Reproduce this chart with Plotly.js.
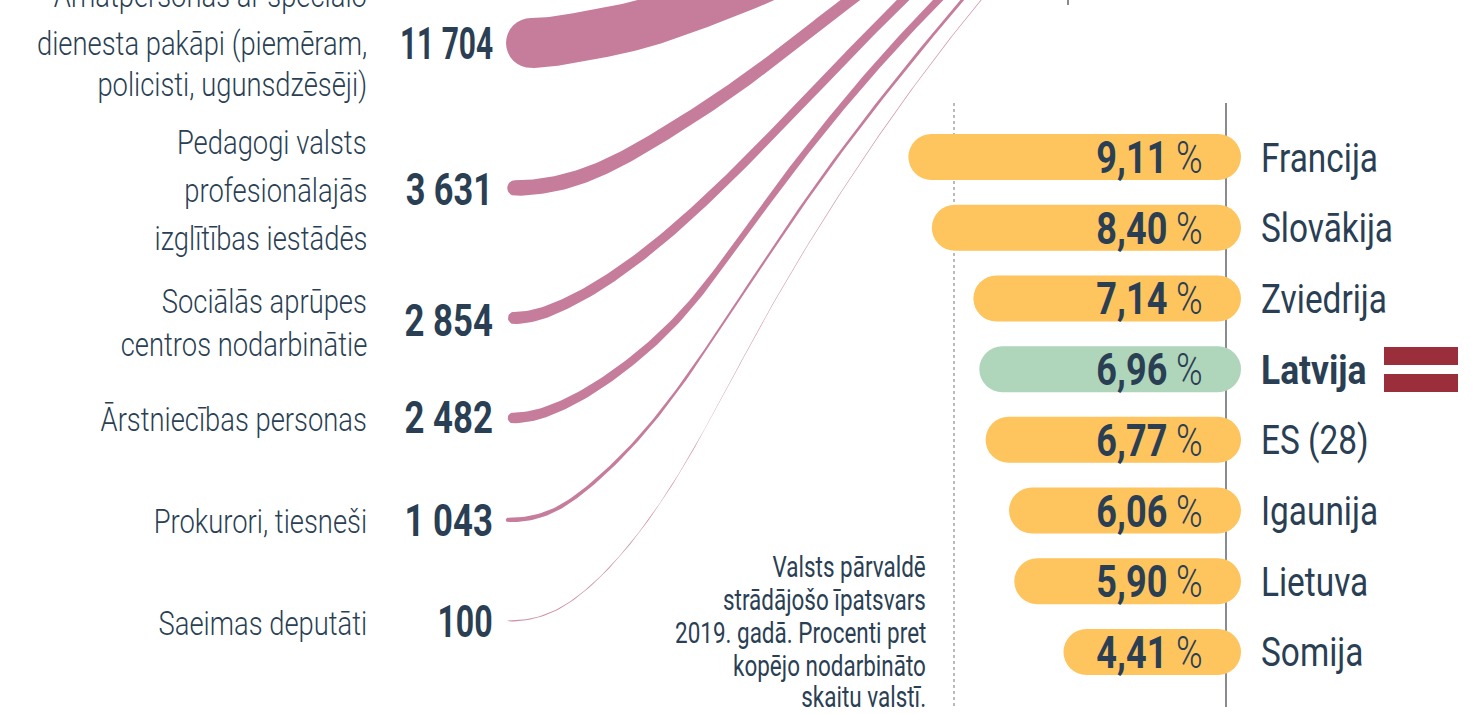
<!DOCTYPE html>
<html><head><meta charset="utf-8">
<script src="https://cdn.plot.ly/plotly-3.0.1.min.js"></script>
<style>
html,body{margin:0;padding:0;background:#fff;overflow:hidden}
#c{width:1477px;height:714px}
</style></head><body><div id="c"></div>
<script>
// --- data ---
const staffLabels = [
  ["Amatpersonas ar speciālo","dienesta pakāpi (piemēram,","policisti, ugunsdzēsēji)"],
  ["Pedagogi valsts","profesionālajās","izglītības iestādēs"],
  ["Sociālās aprūpes","centros nodarbinātie"],
  ["Ārstniecības personas"],
  ["Prokurori, tiesneši"],
  ["Saeimas deputāti"]
];
const staffCounts = [11704,3631,2854,2482,1043,100];
const countries = ["Francija","Slovākija","Zviedrija","Latvija","ES (28)","Igaunija","Lietuva","Somija"];
const shares = [9.11,8.40,7.14,6.96,6.77,6.06,5.90,4.41];
const footnote = ["Valsts pārvaldē","strādājošo īpatsvars","2019. gadā. Procenti pret","kopējo nodarbināto","skaitu valstī."];

// --- ribbon centre lines, as seen in the picture ---
const ribbonX = [
  [531,577,642,691,775,880],
  [515,592,666,750,850,950],
  [514,567,633,727,903,1000],
  [513,567,633,683,769,938,1020],
  [508,550,600,650,750,806,962,1030],
  [508,550,600,683,760,836,981,1050]
];
const ribbonY = [
  [43,37.5,24,8,-25,-75],
  [188,172.5,133,77,0,-75],
  [318,303,262,180,0,-90],
  [418,403,360,313,200,0,-80],
  [520,512,477,425,283,200,0,-80],
  [621,613,577,467,327,200,0,-80]
];

// --- layout constants ---
const W=1477,H=714, INK="#2a3f54", PINK="#c67c9b", FONT="Roboto,sans-serif";
const pxPerStaff=0.00427;
const labelLineY=[[-4,43,84],[142,190,238],[301,344],[419],[521],[623]];
const countY=[44,190,321,418,521,622];
const countSqueeze=[0.68,0.78,0.79,0.79,0.79,0.73];
const rowTop=121.65,rowBottom=687.35,rowCount=8;
const zeroPx=1209,pxPerPct=33,barEndPx=1241;
const noteY=[567,600,633,666,697];

// smooth curve through the read knots (y as a function of x, flat at the left end)
function smooth(xs,ys,step){
  const n=xs.length,h=[],a=[],b=[],c=[],d=[];
  for(let i=0;i<n-1;i++)h[i]=xs[i+1]-xs[i];
  a[0]=2*h[0];b[0]=h[0];d[0]=6*((ys[1]-ys[0])/h[0]);c[0]=0;
  for(let i=1;i<n-1;i++){c[i]=h[i-1];a[i]=2*(h[i-1]+h[i]);b[i]=h[i];
    d[i]=6*((ys[i+1]-ys[i])/h[i]-(ys[i]-ys[i-1])/h[i-1]);}
  a[n-1]=1;c[n-1]=0;b[n-1]=0;d[n-1]=0;
  for(let i=1;i<n;i++){const m=c[i]/a[i-1];a[i]-=m*b[i-1];d[i]-=m*d[i-1];}
  const M=[];M[n-1]=d[n-1]/a[n-1];
  for(let i=n-2;i>=0;i--)M[i]=(d[i]-b[i]*M[i+1])/a[i];
  const ox=[],oy=[];
  for(let i=0;i<n-1;i++)for(let x=xs[i];x<xs[i+1];x+=step){
    const A=(xs[i+1]-x)/h[i],B=(x-xs[i])/h[i];
    ox.push(x);oy.push(A*ys[i]+B*ys[i+1]+((A*A*A-A)*M[i]+(B*B*B-B)*M[i+1])*h[i]*h[i]/6);
  }
  ox.push(xs[n-1]);oy.push(ys[n-1]);
  return [ox,oy];
}

// ribbons: constant vertical thickness, rounded left end
const traces=staffCounts.map((n,i)=>{
  const w=Math.max(n*pxPerStaff,1.1), r=w/2;
  const [cx,cy]=smooth(ribbonX[i],ribbonY[i],3);
  const x=[...cx,...cx.slice().reverse()], y=[...cy.map(v=>v-r),...cy.slice().reverse().map(v=>v+r)];
  for(let k=1;k<16;k++){const a=Math.PI*k/16;x.push(cx[0]-r*Math.sin(a));y.push(cy[0]+r*Math.cos(a));}
  return {type:"scatter",mode:"lines",x,y,fill:"toself",fillcolor:PINK,
    line:{color:PINK,width:0},hoverinfo:"skip",xaxis:"x",yaxis:"y",showlegend:false,
    opacity:i===5?0.85:1};
});
const capBase=(zeroPx-barEndPx)/pxPerPct;
traces.push({type:"bar",orientation:"h",y:countries,x:shares.map(v=>v-capBase),base:capBase,
  marker:{color:countries.map(c=>c==="Latvija"?"#afd5bb":"#fec45e"),line:{width:0}},
  hoverinfo:"skip",xaxis:"x2",yaxis:"y2",showlegend:false});

// text; each entry also carries the horizontal squeeze that gives the narrow look
const ann=[],squeeze=[];
function t(text,x,y,size,anchor,sx,weight,extra){
  ann.push(Object.assign({text,x,y,xref:"x",yref:"y",xanchor:anchor,yanchor:"middle",showarrow:false,
    font:{family:FONT,size,color:INK,weight:weight||400},borderpad:0},extra||{}));
  squeeze.push({sx,anchor});
}
staffLabels.forEach((lines,i)=>lines.forEach((s,j)=>{
  const y=labelLineY[i][j];
  if(y<0) t(s,368,16,34,"right",0.805,300,{yanchor:"bottom"}); else t(s,368,y,34,"right",0.805,300);
}));
staffCounts.forEach((n,i)=>{
  const s=String(n).replace(/\B(?=(\d{3})+$)/g," ");
  t("<b>"+s+"</b>",493.5,countY[i],44,"right",countSqueeze[i]);
});
const rowStep=(rowBottom-rowTop)/rowCount;
shares.forEach((v,i)=>{
  const y=rowTop+rowStep*(i+.5)+1;
  t("<b>"+v.toFixed(2).replace(".",",")+"</b> %",1204,y,44,"right",0.82,300);
  if(countries[i]==="Latvija") t("<b>Latvija</b>",1259.5,y,40,"left",0.885);
  else t(countries[i],1259.5,y,40,"left",0.835);
});
footnote.forEach((s,i)=>t(s,927,noteY[i],29,"right",0.775,400));

const lineGrey="#555b60";
const shapes=[
 {type:"line",xref:"x",yref:"y",x0:954,x1:954,y0:103,y1:707,line:{color:"#777",width:1,dash:"3px,3px"},layer:"below"},
 {type:"line",xref:"x",yref:"y",x0:1226,x1:1226,y0:103,y1:707,line:{color:lineGrey,width:1.4},layer:"below"},
 {type:"line",xref:"x",yref:"y",x0:1068,x1:1068,y0:0,y1:5,line:{color:lineGrey,width:1.4},layer:"below"},
 {type:"rect",xref:"x",yref:"y",x0:1384,x1:1458,y0:347,y1:365,fillcolor:"#9a2f3b",line:{width:0}},
 {type:"rect",xref:"x",yref:"y",x0:1384,x1:1458,y0:374,y1:392,fillcolor:"#9a2f3b",line:{width:0}}
];
const hidden={visible:false,fixedrange:true};
Plotly.newPlot("c",traces,{
  width:W,height:H,margin:{l:0,r:0,t:0,b:0,pad:0},paper_bgcolor:"#fff",plot_bgcolor:"rgba(0,0,0,0)",
  showlegend:false,
  xaxis:Object.assign({range:[0,W],domain:[0,1]},hidden),
  yaxis:Object.assign({range:[H,0],domain:[0,1]},hidden),
  xaxis2:Object.assign({range:[zeroPx/pxPerPct,(zeroPx-W)/pxPerPct],domain:[0,1],anchor:"y2"},hidden),
  yaxis2:Object.assign({type:"category",categoryorder:"array",categoryarray:countries,range:[rowCount-.5,-.5],
    domain:[1-rowBottom/H,1-rowTop/H],anchor:"x2"},hidden),
  bargap:1-46/rowStep,barcornerradius:23,
  annotations:ann,shapes
},{displayModeBar:false,staticPlot:true}).then(gd=>{
  gd.querySelectorAll(".annotation").forEach(g=>{
    const i=+g.getAttribute("data-index"), q=squeeze[i], el=g.querySelector("text.annotation-text");
    if(!q||!el)return;
    const bb=el.getBBox(), p=q.anchor==="right"?bb.x+bb.width:bb.x;
    el.setAttribute("transform",`translate(${p},0) scale(${q.sx},1) translate(${-p},0) `+(el.getAttribute("transform")||""));
  });
});
</script></body></html>
